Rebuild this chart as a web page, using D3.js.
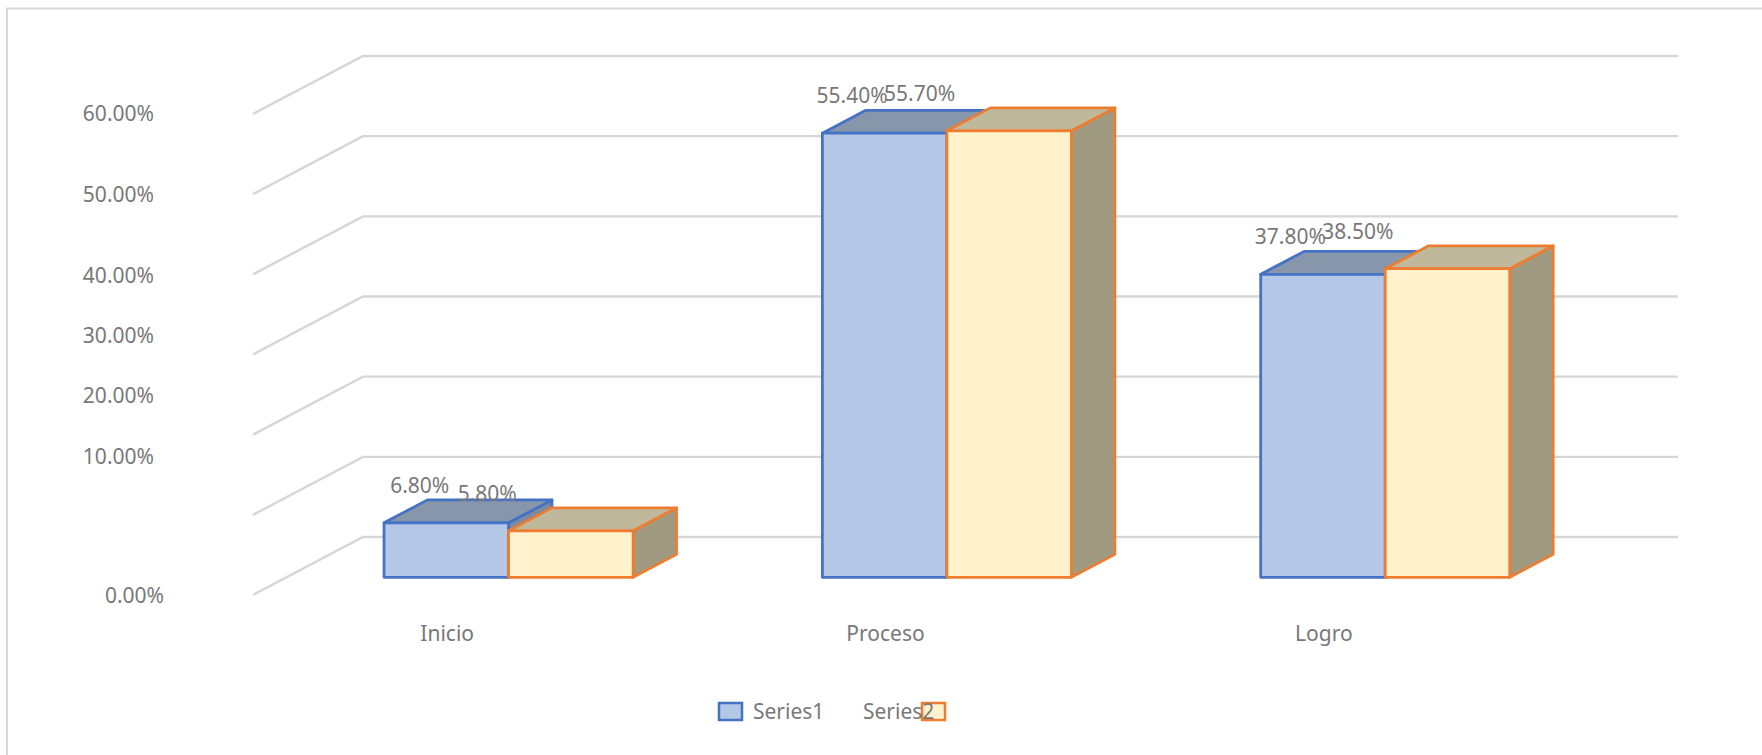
<!DOCTYPE html>
<html>
<head>
<meta charset="utf-8" />
<title>3D column chart</title>
<style>
body { margin: 0; background: #fff; }
#graph { width: 1762px; height: 755px; }
text { font-family: "Noto Sans", sans-serif; font-size: 21px; fill: #787878; }
.grid { fill: none; stroke: #d6d6d6; stroke-width: 2.4; }
</style>
</head>
<body>
<div id="graph"></div>
<script src="https://cdnjs.cloudflare.com/ajax/libs/d3/7.8.5/d3.min.js"></script>
<script>
// data
var categories = ["Inicio", "Proceso", "Logro"]
var seriesNames = ["Series1", "Series2"]
var series1 = [0.068, 0.554, 0.378]
var series2 = [0.058, 0.557, 0.385]
var tickValues = [0, 0.1, 0.2, 0.3, 0.4, 0.5, 0.6]
var tickLabels = ["0.00%", "10.00%", "20.00%", "30.00%", "40.00%", "50.00%", "60.00%"]

!(function(){
    "use strict"

    var width = 1762, height = 755
    // oblique projection: depth vector for z = 0 (front) .. 1 (back wall)
    var DX = 110, DY = -58
    var zFront = 0.305, zBack = 0.70

    var svg = d3.select("#graph").append("svg")
        .attr("width", width).attr("height", height)

    var xScale = d3.scaleBand().domain(categories).range([253, 1568])
    var sScale = d3.scaleBand().domain(seriesNames).range([0, xScale.bandwidth()])
        .paddingOuter(0.76).align(0.515)
    var yScale = d3.scaleLinear().domain([0, 0.6]).range([595, 114])

    var styles = {
        Series1: {front: "#b4c7e7", top: "#8896ab", side: "#7c89a1", stroke: "#4472c4"},
        Series2: {front: "#fff2cc", top: "#bfb89a", side: "#a09a80", stroke: "#ed7d31"}
    }

    function proj(x, v, z) {
        return [x + z * DX, yScale(v) + z * DY]
    }

    // outer frame
    svg.append("rect")
        .attr("x", 7).attr("y", 8.5).attr("width", 1800).attr("height", 800)
        .attr("fill", "none").attr("stroke", "#d9d9d9").attr("stroke-width", 2)

    // walls: side gridlines + back gridlines
    var x0 = xScale.range()[0], x1 = xScale.range()[1]
    svg.append("g").selectAll("path").data(tickValues).enter().append("path")
        .attr("class", "grid")
        .attr("d", function(t){
            return d3.line()([proj(x0, t, 0), proj(x0, t, 1), proj(x1, t, 1)])
        })

    // y tick labels (Excel shifted a few of them)
    var labelNudge = [[10, 0], [0, -59], [0, -40], [0, -20], [0, 1], [0, 0], [0, -1]]
    svg.append("g").selectAll("text").data(tickValues).enter().append("text")
        .attr("text-anchor", "end")
        .attr("dominant-baseline", "central")
        .attr("x", function(d, i){ return 154 + labelNudge[i][0] })
        .attr("y", function(d, i){ return yScale(d) + labelNudge[i][1] })
        .text(function(d, i){ return tickLabels[i] })

    // bars
    var data = []
    categories.forEach(function(c, i){
        data.push({cat: c, s: "Series1", v: series1[i]})
        data.push({cat: c, s: "Series2", v: series2[i]})
    })

    svg.append("g").selectAll("g.bar").data(data).enter().append("g").classed("bar", true)
        .each(function(d){
            var g = d3.select(this)
            var st = styles[d.s]
            var xl = xScale(d.cat) + sScale(d.s)
            var xr = xl + sScale.bandwidth()
            var faces = [
                {fill: st.side, pts: [proj(xr, d.v, zFront), proj(xr, 0, zFront), proj(xr, 0, zBack), proj(xr, d.v, zBack)]},
                {fill: st.top, pts: [proj(xl, d.v, zFront), proj(xr, d.v, zFront), proj(xr, d.v, zBack), proj(xl, d.v, zBack)]},
                {fill: st.front, pts: [proj(xl, d.v, zFront), proj(xr, d.v, zFront), proj(xr, 0, zFront), proj(xl, 0, zFront)]}
            ]
            g.selectAll("path").data(faces).enter().append("path")
                .attr("d", function(f){ return "M" + f.pts.join("L") + "Z" })
                .attr("fill", function(f){ return f.fill })
                .attr("stroke", st.stroke)
                .attr("stroke-width", 2.75)
                .attr("stroke-linejoin", "round")
        })

    // data labels
    svg.append("g").selectAll("text").data(data).enter().append("text")
        .attr("text-anchor", "end")
        .attr("dominant-baseline", "central")
        .attr("x", function(d){
            var cx = xScale(d.cat) + sScale(d.s) + sScale.bandwidth() / 2 + zFront * DX
            return d.s === "Series1" ? cx + 3 : cx - 54
        })
        .attr("y", function(d){ return proj(0, d.v, zFront)[1] - 38 })
        .text(function(d){ return d3.format(".2%")(d.v) })

    // category labels
    svg.append("g").selectAll("text").data(categories).enter().append("text")
        .attr("text-anchor", "middle")
        .attr("dominant-baseline", "central")
        .attr("x", function(d){ return xScale(d) + xScale.bandwidth() / 2 - 25 })
        .attr("y", 633)
        .text(function(d){ return d })

    // legend
    var legend = svg.append("g").attr("transform", "translate(718,702)")
    seriesNames.forEach(function(s, i){
        var sx = i === 0 ? 0 : 203
        legend.append("rect")
            .attr("x", sx + 1).attr("y", 1).attr("width", 23).attr("height", 17)
            .attr("fill", styles[s].front).attr("stroke", styles[s].stroke).attr("stroke-width", 2.5)
        legend.append("text")
            .attr("x", 35 + i * 110).attr("y", 9)
            .attr("dominant-baseline", "central")
            .text(s)
    })
}());
</script>
</body>
</html>
